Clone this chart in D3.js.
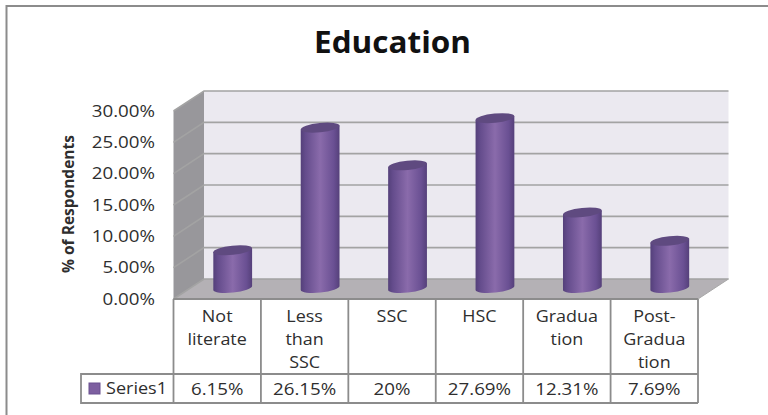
<!DOCTYPE html>
<html><head><meta charset="utf-8">
<script src="https://cdn.jsdelivr.net/npm/d3@7"></script>
<style>
html,body{margin:0;padding:0;background:#fff}
svg{display:block}
text{font-family:"Open Sans",sans-serif;fill:#2e2e2e}
</style></head><body><svg id="c" width="768" height="415"></svg>
<script>
const categories=[["Not","literate"],["Less","than","SSC"],["SSC"],["HSC"],["Gradua","tion"],["Post-","Gradua","tion"]];
const values=[6.15,26.15,20,27.69,12.31,7.69];
const valueLabels=["6.15%","26.15%","20%","27.69%","12.31%","7.69%"];
const ticks=[0,5,10,15,20,25,30];
const title="Education", yTitle="% of Respondents", seriesName="Series1";

const svg=d3.select("#c");
const defs=svg.append("defs");
const grad=defs.append("linearGradient").attr("id","cyl");
[[0,"#54407a"],[.12,"#644c8c"],[.5,"#8a6bab"],[.85,"#6a5093"],[1,"#55407a"]].forEach(([o,c])=>grad.append("stop").attr("offset",o).attr("stop-color",c));
const grey="#8c8c8c";
// stretch a text horizontally, the reference's lettering is wide for its height
function stretch(sel,f){
  sel.each(function(){
    const w=this.getComputedTextLength();
    d3.select(this).attr("textLength",w*f).attr("lengthAdjust","spacingAndGlyphs");
  });
  return sel;
}
const wide=1.17, wideCat=1.12;

// frame: only the top and left edges are visible
svg.append("path").attr("fill","none").attr("stroke",grey).attr("stroke-width",2)
  .attr("d",d3.line()([[6.5,415],[6.5,6],[768,6]]));

const yBack=d3.scaleLinear().domain([0,30]).range([279,91]);
const yFront=d3.scaleLinear().domain([0,30]).range([299,111]);
const yBar=d3.scaleLinear().domain([0,30]).range([288,104]);
const xEdge=d3.scaleLinear().domain([0,6]).range([173.5,698]);
const dx=30.5;
const line=d3.line();

// walls
svg.append("path").attr("d",line([[xEdge(0)+dx,yBack(30)],[xEdge(6)+dx,yBack(30)],[xEdge(6)+dx,yBack(0)],[xEdge(0)+dx,yBack(0)]])+"Z").attr("fill","#ebe9f0");
svg.append("path").attr("d",line([[xEdge(0),yFront(30)],[xEdge(0)+dx,yBack(30)],[xEdge(0)+dx,yBack(0)],[xEdge(0),yFront(0)]])+"Z").attr("fill","#98979b");
svg.append("path").attr("d",line([[xEdge(0),yFront(0)],[xEdge(0)+dx,yBack(0)],[xEdge(6)+dx,yBack(0)],[xEdge(6),yFront(0)]])+"Z").attr("fill","#b4b1b5");
// gridlines
ticks.forEach(t=>{
  svg.append("path").attr("fill","none").attr("stroke","#a3a3a3").attr("stroke-width",1.6)
    .attr("d",line([[xEdge(0),yFront(t)],[xEdge(0)+dx,yBack(t)],[xEdge(6)+dx,yBack(t)]]));
});
svg.append("path").attr("fill","none").attr("stroke","#a8a8a8").attr("d",line([[xEdge(6),yFront(0)],[xEdge(6)+dx,yBack(0)]]));

// tick labels
stretch(svg.append("g").selectAll("text").data(ticks).join("text")
  .attr("x",155).attr("y",d=>yFront(d)+5.5).attr("text-anchor","end")
  .attr("font-size",16).text(d=>d.toFixed(2)+"%"),wide);
svg.append("text").attr("transform","translate(73.5,204) rotate(-90)").attr("text-anchor","middle")
  .attr("font-size",16).attr("font-weight",700).attr("textLength",138).attr("lengthAdjust","spacingAndGlyphs").text(yTitle);
svg.append("text").attr("x",392.5).attr("y",52.5).attr("text-anchor","middle").attr("font-size",29.5).attr("font-weight",700).style("fill","#111").attr("textLength",157).attr("lengthAdjust","spacingAndGlyphs").text(title);

// bars
const rx=19.5, ry=4.6, tilt=-6;
function cyl(g,cx,yt,yb){
  const a=tilt*Math.PI/180, ex=rx*Math.cos(a), ey=rx*Math.sin(a);
  const p=`M${cx-ex},${yt-ey}L${cx-ex},${yb-ey}A${rx},${ry} ${tilt} 0 0 ${cx+ex},${yb+ey}L${cx+ex},${yt+ey}Z`;
  g.append("path").attr("d",p).attr("fill","url(#cyl)");
  g.append("ellipse").attr("rx",rx).attr("ry",ry).attr("fill","#5f4a80")
   .attr("transform",`translate(${cx},${yt}) rotate(${tilt})`);
}
const barsG=svg.append("g");
values.forEach((v,i)=>cyl(barsG,(xEdge(i)+xEdge(i+1))/2+15.5,yBar(v),yBar(0)));

// data table
const rowTop=299, rowMid=374, rowBot=403, tblLeft=81;
const tb=svg.append("g").attr("fill","none").attr("stroke",grey).attr("stroke-width",1.8);
d3.range(7).forEach(i=>tb.append("line").attr("x1",xEdge(i)).attr("x2",xEdge(i)).attr("y1",rowTop).attr("y2",rowBot));
tb.append("line").attr("x1",tblLeft).attr("x2",tblLeft).attr("y1",rowMid-1).attr("y2",rowBot+1);
tb.append("line").attr("x1",xEdge(0)).attr("x2",xEdge(6)).attr("y1",rowTop).attr("y2",rowTop);
tb.append("line").attr("x1",tblLeft).attr("x2",xEdge(6)).attr("y1",rowMid).attr("y2",rowMid);
tb.append("line").attr("x1",tblLeft).attr("x2",xEdge(6)).attr("y1",rowBot).attr("y2",rowBot);

categories.forEach((c,i)=>{
  const cx=(xEdge(i)+xEdge(i+1))/2;
  c.forEach((s,j)=>stretch(svg.append("text").attr("x",cx).attr("y",322+j*23).attr("text-anchor","middle").attr("font-size",16).text(s),wideCat));
  stretch(svg.append("text").attr("x",cx).attr("y",395).attr("text-anchor","middle").attr("font-size",16).text(valueLabels[i]),wide);
});
svg.append("rect").attr("x",89).attr("y",383).attr("width",11).attr("height",11).attr("fill","#7d5fa0").attr("stroke","#6a5090");
svg.append("text").attr("x",106).attr("y",394).attr("font-size",16).attr("textLength",61).attr("lengthAdjust","spacingAndGlyphs").text(seriesName);
</script></body></html>
